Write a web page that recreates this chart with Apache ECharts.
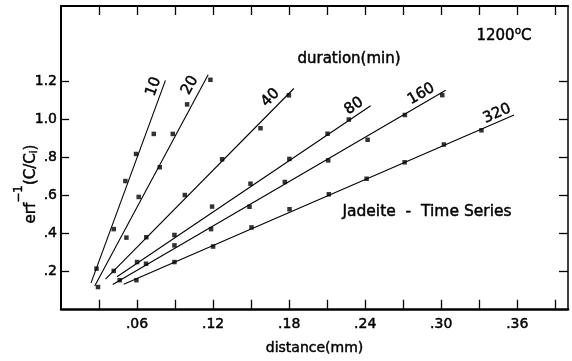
<!DOCTYPE html>
<html><head><meta charset="utf-8">
<script src="https://cdn.jsdelivr.net/npm/echarts@6/dist/echarts.min.js"></script>
<style>html,body{margin:0;padding:0;background:#fff}#c{width:572px;height:361px}</style>
</head><body><div id="c"></div>
<script>
// durations (min)
const durations = ['10', '20', '40', '80', '160', '320'];
// measured points [distance mm, erf^-1(C/Ci)]
const pts10 = [[0.028, 0.212], [0.0416, 0.421], [0.0508, 0.675], [0.0592, 0.818], [0.0732, 0.924]];
const pts20 = [[0.0292, 0.115], [0.0516, 0.376], [0.0613, 0.591], [0.0779, 0.748], [0.0882, 0.924], [0.0995, 1.080], [0.1179, 1.210]];
const pts40 = [[0.0416, 0.200], [0.0673, 0.378], [0.0977, 0.601], [0.1271, 0.790], [0.1574, 0.954], [0.1798, 1.128]];
const pts80 = [[0.060, 0.247], [0.0895, 0.390], [0.1192, 0.540], [0.1495, 0.661], [0.1802, 0.792], [0.2103, 0.925], [0.2271, 1.000]];
const pts160 = [[0.0463, 0.151], [0.0671, 0.238], [0.0895, 0.335], [0.1184, 0.421], [0.1487, 0.539], [0.1766, 0.670], [0.2108, 0.784], [0.2419, 0.893], [0.2713, 1.024], [0.3008, 1.129]];
const pts320 = [[0.0595, 0.151], [0.0895, 0.247], [0.120, 0.329], [0.1503, 0.430], [0.1803, 0.526], [0.2113, 0.605], [0.2411, 0.687], [0.2711, 0.774], [0.3021, 0.868], [0.3317, 0.943]];
// fitted lines (end points)
const fit10 = [[0.0237, 0.137], [0.0824, 1.207]];
const fit20 = [[0.0266, 0.120], [0.1161, 1.237]];
const fit40 = [[0.0351, 0.157], [0.1837, 1.164]];
const fit80 = [[0.0442, 0.169], [0.2443, 1.073]];
const fit160 = [[0.0408, 0.128], [0.3035, 1.155]];
const fit320 = [[0.0495, 0.130], [0.3574, 1.024]];
// ticks / labels
const xTicks = [0.03, 0.06, 0.09, 0.12, 0.15, 0.18, 0.21, 0.24, 0.27, 0.30, 0.33, 0.36, 0.39];
const xLabels = [0.06, 0.12, 0.18, 0.24, 0.30, 0.36];
const yTicks = [0.2, 0.4, 0.6, 0.8, 1.0, 1.2];
const yLabels = [0.2, 0.4, 0.6, 0.8, 1.0, 1.2];

const allPts = [pts10, pts20, pts40, pts80, pts160, pts320];
const allFits = [fit10, fit20, fit40, fit80, fit160, fit320];

const FF = "'DejaVu Sans', sans-serif";
const K = '#000';
const BW = 0.45; // slight emboldening like the scanned print
const chart = echarts.init(document.getElementById('c'), null, {renderer: 'canvas'});

function fmt(v, d) { return v.toFixed(d).replace(/^0/, ''); }
const tickStyle = {color: K, width: 1.3};

const series = [];
allFits.forEach((f, i) => {
  series.push({type: 'line', data: f, showSymbol: false, silent: true,
    lineStyle: {color: K, width: 1.1}, animation: false, z: 2});
});
allPts.forEach((p, i) => {
  series.push({type: 'scatter', data: p, symbol: 'rect', symbolSize: 4.5,
    itemStyle: {color: K}, animation: false, z: 3});
});

const lblStyle = {fontSize: 14, fontFamily: FF, color: K, textBorderColor: K, textBorderWidth: BW};

chart.setOption({
  animation: false,
  backgroundColor: '#fff',
  grid: {left: 61, right: 4, top: 6, bottom: 48, containLabel: false},
  xAxis: [{
    type: 'value', min: 0, max: 0.4, position: 'bottom',
    axisLine: {show: true, onZero: false, lineStyle: {color: K, width: 2.5}},
    axisTick: {show: true, inside: true, length: 9, customValues: xTicks, lineStyle: tickStyle},
    axisLabel: Object.assign({customValues: xLabels, formatter: v => fmt(v, 2), margin: 9}, lblStyle),
    splitLine: {show: false},
    name: 'distance(mm)', nameLocation: 'middle', nameGap: 33,
    nameTextStyle: {fontSize: 14, fontFamily: FF, color: K, textBorderColor: K, textBorderWidth: BW}
  }, {
    type: 'value', min: 0, max: 0.4, position: 'top',
    axisLine: {show: true, onZero: false, lineStyle: {color: K, width: 2}},
    axisTick: {show: true, inside: true, length: 9, customValues: xTicks, lineStyle: tickStyle},
    axisLabel: {show: false}, splitLine: {show: false}
  }],
  yAxis: [{
    type: 'value', min: 0, max: 1.6, position: 'left',
    axisLine: {show: true, onZero: false, lineStyle: {color: K, width: 2}},
    axisTick: {show: true, inside: true, length: 8, customValues: yTicks, lineStyle: tickStyle},
    axisLabel: Object.assign({customValues: yLabels, formatter: v => fmt(v, 1), margin: 4}, lblStyle),
    splitLine: {show: false}
  }, {
    type: 'value', min: 0, max: 1.6, position: 'right',
    axisLine: {show: true, onZero: false, lineStyle: {color: K, width: 1.5}},
    axisTick: {show: true, inside: true, length: 9, customValues: yTicks, lineStyle: tickStyle},
    axisLabel: {show: false}, splitLine: {show: false}
  }],
  series: series
});

// labels along the fitted lines: [distance back from top end, offset above line]
const lblOff = [[10, 9], [18, 11], [23, 10], [14, 9], [23, 9], [15, 8]];
const graphics = [];
function txt(x, y, text, size, extra) {
  return Object.assign({type: 'text', x: x, y: y, z: 10,
    style: {text: text, fill: K, stroke: K, lineWidth: BW, font: size + 'px ' + FF, align: 'center', verticalAlign: 'middle'}}, extra || {});
}
allFits.forEach((f, i) => {
  const a = chart.convertToPixel({xAxisIndex: 0, yAxisIndex: 0}, f[0]);
  const b = chart.convertToPixel({xAxisIndex: 0, yAxisIndex: 0}, f[1]);
  const dx = b[0] - a[0], dy = b[1] - a[1];
  const L = Math.hypot(dx, dy);
  const ux = dx / L, uy = dy / L;
  const nx = uy, ny = -ux;
  const [al, pp] = lblOff[i];
  graphics.push(txt(b[0] - ux * al + nx * pp, b[1] - uy * al + ny * pp, durations[i], 15,
    {rotation: Math.atan2(-dy, dx)}));
});
graphics.push(txt(349, 59, 'duration(min)', 15));
graphics.push(txt(427, 212, 'Jadeite  -  Time Series', 15.5));
const rs = (size, lh, va) => ({fontSize: size, fontFamily: FF, fill: K, stroke: K, lineWidth: BW, lineHeight: lh, verticalAlign: va});
graphics.push({type: 'text', x: 504, y: 35, z: 10,
  style: {text: '{a|1200}{s|o}{a|C}', align: 'center', verticalAlign: 'middle',
    rich: {a: rs(15, 18, 'bottom'), s: rs(10.5, 10, 'top')}}});
graphics.push({type: 'text', x: 26, y: 184, z: 10, rotation: Math.PI / 2,
  style: {text: '{a|erf}{s|\u22121}{a|(C/C}{b|i}{a|)}', align: 'center', verticalAlign: 'middle',
    rich: {a: rs(15, 26, 'bottom'), s: rs(12, 12, 'top'), b: rs(10, 10, 'bottom')}}});
chart.setOption({graphic: graphics});
</script>
</body></html>
